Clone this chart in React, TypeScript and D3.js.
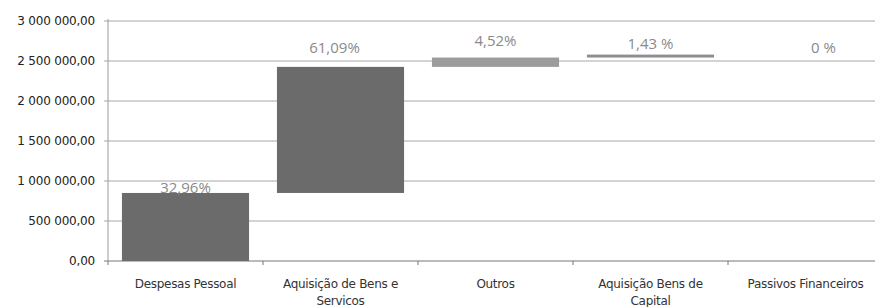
import React from 'react'
import * as d3 from 'd3'

// waterfall of spending categories
const categories = [
  ['Despesas Pessoal'],
  ['Aquisição de Bens e', 'Servicos'],
  ['Outros'],
  ['Aquisição Bens de', 'Capital'],
  ['Passivos Financeiros'],
]
const amounts = [850400, 1576200, 116600, 36900, 0]
const pctLabels = ['32,96%', '61,09%', '4,52%', '1,43 %', '0 %']
const yTicks = [0, 500000, 1000000, 1500000, 2000000, 2500000, 3000000]

const barColors = ['#6b6b6b', '#6b6b6b', '#9c9c9c', '#8e8e8e', '#8e8e8e']
const labelDy = [0, -14, -12, -6, -2]
const labelDx = [0, -6, 0, 0, 18]

const W = 875
const H = 307
const margin = {top: 21, right: -8, bottom: 46, left: 108}

const fmt = (v: number) => {
  const s = d3.format(',.2f')(v)
  return s.replace(/,/g, ' ').replace('.', ',')
}

export default function App() {
  const x = d3
    .scaleBand()
    .domain(categories.map((_, i) => String(i)))
    .range([margin.left, W - margin.right])
    .paddingInner(0.18)
    .paddingOuter(0.09)
  const y = d3
    .scaleLinear()
    .domain([0, 3000000])
    .range([H - margin.bottom, margin.top])

  const starts = amounts.map((_, i) => d3.sum(amounts.slice(0, i)))
  const x0 = margin.left
  const boundaries = d3.range(categories.length + 1).map(i => x0 + i * (W - margin.right - x0) / categories.length)

  return (
    <svg width={W} height={H} style={{position: 'absolute', left: 0, top: 0}}>
      <rect width={W} height={H} fill="#fff" />
      {yTicks.map(t => (
        <g key={t}>
          <line x1={margin.left - 4} x2={W} y1={y(t)} y2={y(t)} stroke={t === 0 ? '#777' : '#a8a8a8'} strokeWidth={1} />
          <text
            x={margin.left - 13}
            y={y(t)}
            dy="0.35em"
            textAnchor="end"
            fontFamily="'DejaVu Sans', sans-serif"
            fontSize={12}
            fill="#222"
            letterSpacing={-0.2}
          >
            {fmt(t)}
          </text>
        </g>
      ))}
      <line x1={margin.left} x2={margin.left} y1={margin.top - 2} y2={y(0)} stroke="#999" />
      {boundaries.map((b, i) => (
        <line key={i} x1={b} x2={b} y1={y(0)} y2={y(0) + 4} stroke="#777" />
      ))}
      {amounts.map((a, i) => {
        const top = y(starts[i] + a)
        const bottom = y(starts[i])
        const h = Math.max(bottom - top, a > 0 ? 2.5 : 0)
        return (
          <rect
            key={i}
            x={x(String(i))}
            y={bottom - h}
            width={x.bandwidth()}
            height={h}
            fill={barColors[i]}
          />
        )
      })}
      {pctLabels.map((l, i) => (
        <text
          key={l}
          x={(x(String(i)) as number) + x.bandwidth() / 2 + labelDx[i]}
          y={y(starts[i] + amounts[i]) + labelDy[i]}
          textAnchor="middle"
          fontFamily="'Open Sans', sans-serif"
          fontSize={15}
          fill="#8a8a8a"
        >
          {l}
        </text>
      ))}
      {categories.map((lines, i) => (
        <text
          key={i}
          x={(x(String(i)) as number) + x.bandwidth() / 2}
          y={288}
          textAnchor="middle"
          fontFamily="'DejaVu Sans', sans-serif"
          fontSize={12}
          fill="#333"
          letterSpacing={-0.3}
        >
          {lines.map((ln, j) => (
            <tspan key={j} x={(x(String(i)) as number) + x.bandwidth() / 2} dy={j === 0 ? 0 : 17}>
              {ln}
            </tspan>
          ))}
        </text>
      ))}
    </svg>
  )
}
